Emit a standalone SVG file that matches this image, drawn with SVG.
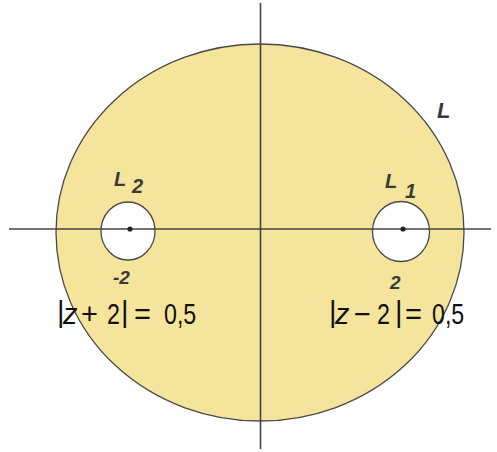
<svg xmlns="http://www.w3.org/2000/svg" width="497" height="452" viewBox="0 0 497 452">
<style>
.region{fill:#F4E49C;stroke:#4a4a4a;stroke-width:1.3}
.hole{fill:#ffffff;stroke:#4a4a4a;stroke-width:1.3}
.axis{stroke:#444;stroke-width:1.6;fill:none}
.dot{fill:#222}
.lbl{font-family:"Liberation Sans",Arial,sans-serif;font-style:italic;font-weight:bold;fill:#3a3a3a}
.f{font-family:"Liberation Sans",Arial,sans-serif;font-size:29px;fill:#111}
.fi{font-style:italic}
</style>
<rect width="497" height="452" fill="#ffffff"/>
<g id="region-L">
<ellipse class="region" cx="260" cy="232.5" rx="204" ry="188.5"/>
</g>
<g id="hole-L2">
<ellipse class="hole" cx="128" cy="231" rx="27" ry="29"/>
</g>
<g id="hole-L1">
<ellipse class="hole" cx="401" cy="231.5" rx="28.5" ry="30"/>
</g>
<g id="axes">
<line class="axis" x1="9" y1="229" x2="491" y2="229"/>
<line class="axis" x1="260.5" y1="3" x2="260.5" y2="449"/>
</g>
<g id="points">
<circle class="dot" cx="130" cy="229" r="2.6"/>
<circle class="dot" cx="403" cy="229" r="2.6"/>
</g>
<g id="labels">
<text class="lbl" x="437" y="118" font-size="22">L</text>
<text class="lbl" x="114" y="186" font-size="20">L</text>
<text class="lbl" x="132" y="193" font-size="20">2</text>
<text class="lbl" x="385" y="188" font-size="20">L</text>
<text class="lbl" x="405" y="198" font-size="20">1</text>
<text class="lbl" x="113" y="284" font-size="19">-2</text>
<text class="lbl" x="390" y="289" font-size="19">2</text>
</g>
<g id="formula-left">
<text class="f" x="57" y="322" font-size="36">|</text>
<text class="f fi" x="63" y="324" font-size="30">z</text>
<text class="f" x="81" y="324">+</text>
<text class="f" x="107" y="324" transform="translate(107 0) scale(0.8 1) translate(-107 0)">2</text>
<text class="f" x="121" y="322" font-size="36">|</text>
<text class="f" x="134" y="324">=</text>
<text class="f" x="164" y="324" transform="translate(164 0) scale(0.8 1) translate(-164 0)">0,5</text>
</g>
<g id="formula-right">
<text class="f" x="329" y="322" font-size="36">|</text>
<text class="f fi" x="335" y="324" font-size="30">z</text>
<text class="f" x="354" y="324">−</text>
<text class="f" x="377" y="324" transform="translate(377 0) scale(0.8 1) translate(-377 0)">2</text>
<text class="f" x="395" y="322" font-size="36">|</text>
<text class="f" x="405" y="324">=</text>
<text class="f" x="432" y="324" transform="translate(432 0) scale(0.8 1) translate(-432 0)">0,5</text>
</g>
</svg>
